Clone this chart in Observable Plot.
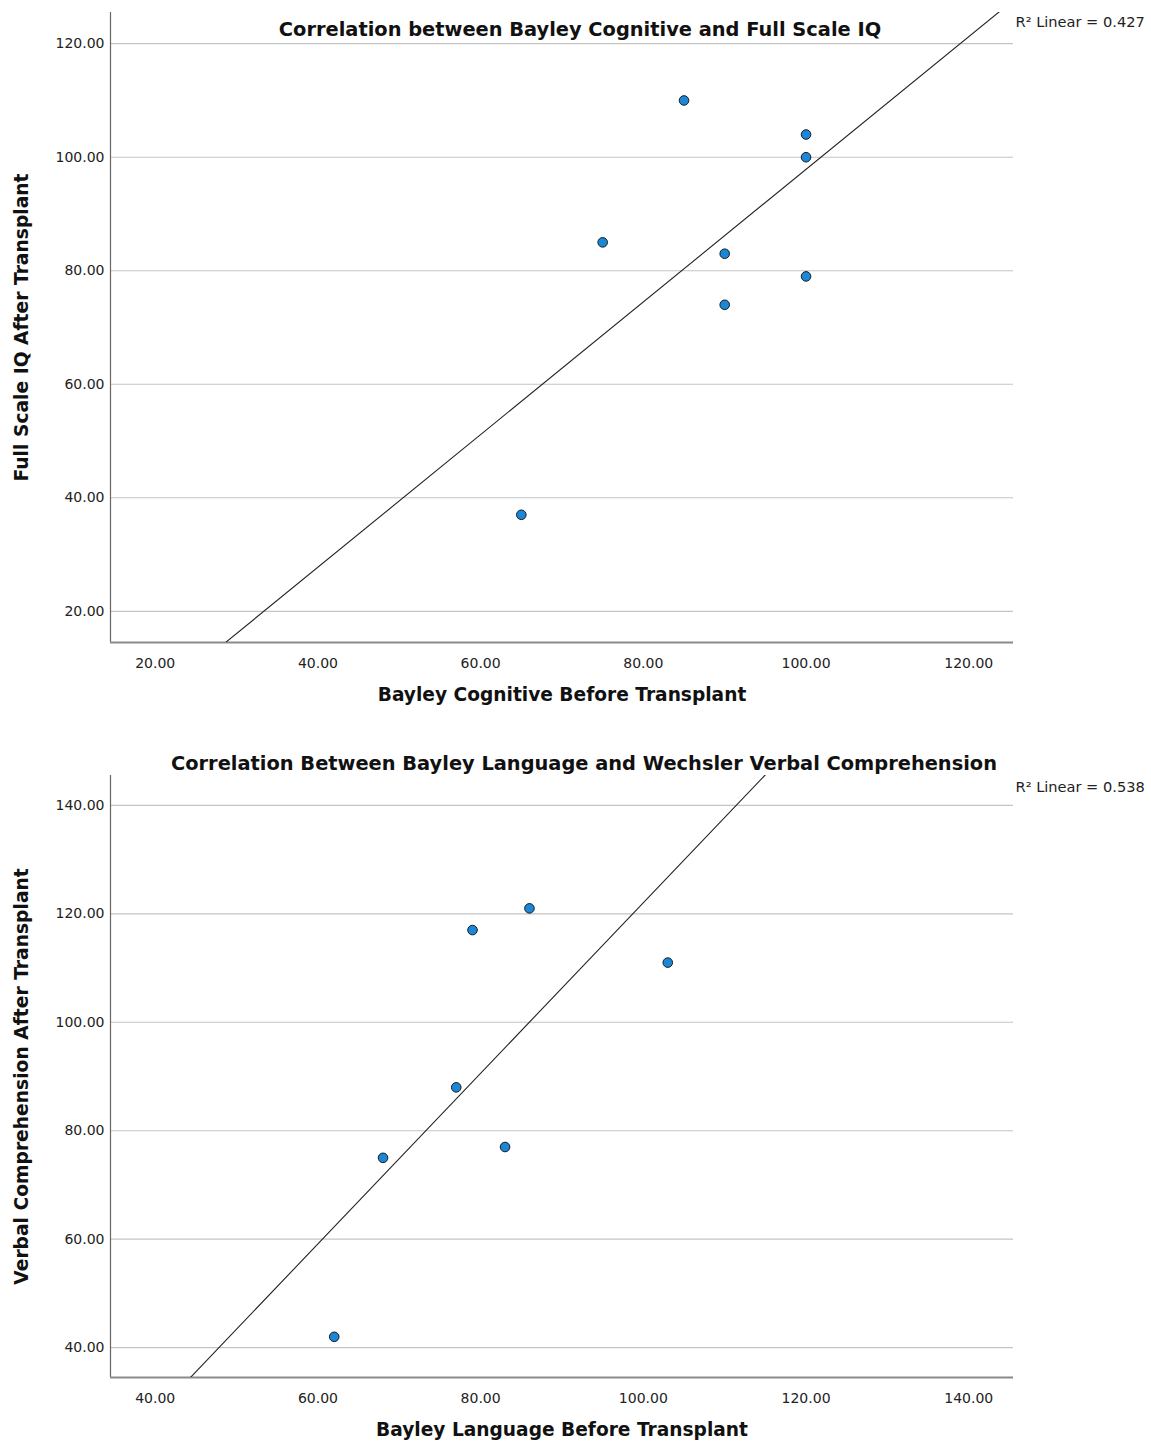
<!DOCTYPE html>
<html><head><meta charset="utf-8">
<script src="https://cdn.jsdelivr.net/npm/d3@7"></script>
<script src="https://cdn.jsdelivr.net/npm/@observablehq/plot@0.6"></script>
<style>body{margin:0;background:#fff} svg{display:block}</style>
</head><body><div id="c"></div>
<script>
// Chart 1 data
const cogBefore = [65, 75, 85, 90, 90, 100, 100, 100];
const fsiqAfter = [37, 85, 110, 83, 74, 104, 100, 79];
const ticks1 = [20, 40, 60, 80, 100, 120];
const domain1 = [14.5, 125.5];
// Chart 2 data
const langBefore = [62, 68, 77, 79, 83, 86, 103];
const vcAfter = [42, 75, 88, 117, 77, 121, 111];
const ticks2 = [40, 60, 80, 100, 120, 140];
const domain2 = [34.5, 145.5];

const FONT = "DejaVu Sans";
const fmt = d3.format(".2f");

function fit(xs, ys) {
  const mx = d3.mean(xs), my = d3.mean(ys);
  let sxy = 0, sxx = 0, syy = 0;
  xs.forEach((x, i) => { const dx = x - mx, dy = ys[i] - my; sxy += dx*dy; sxx += dx*dx; syy += dy*dy; });
  const b = sxy / sxx;
  return {b, a: my - b*mx, r2: sxy*sxy/(sxx*syy)};
}

function chart(o) {
  const data = o.xs.map((x, i) => ({x, y: o.ys[i]}));
  const f = fit(o.xs, o.ys);
  const lineData = o.domain.map(x => ({x, y: f.a + f.b*x}));
  return Plot.plot({
    width: 1151, height: o.height,
    marginLeft: 110, marginRight: 138, marginTop: o.marginTop, marginBottom: o.marginBottom,
    style: {fontFamily: FONT, background: "#fff"},
    x: {domain: o.domain},
    y: {domain: o.domain},
    marks: [
      Plot.ruleY(o.ticks, {stroke: "#c4c4c4", strokeWidth: 1.2}),
      Plot.axisX({ticks: o.ticks, tickFormat: fmt, tickSize: 0, tickPadding: 16, fontSize: 14, label: null, fill: "#222"}),
      Plot.axisY({ticks: o.ticks, tickFormat: fmt, tickSize: 0, tickPadding: 6, fontSize: 14, label: null, fill: "#222"}),
      Plot.ruleX([o.domain[0]], {stroke: "#666", strokeWidth: 1.2}),
      Plot.ruleY([o.domain[0]], {stroke: "#8a8a8a", strokeWidth: 2}),
      Plot.line(lineData, {x: "x", y: "y", stroke: "#222", strokeWidth: 1.1, clip: true}),
      Plot.dot(data, {x: "x", y: "y", r: 4.8, fill: "#1a87d9", stroke: "#1a1a1a", strokeWidth: 1}),
      Plot.text([o.title], {frameAnchor: "top", dx: o.titleDx, dy: o.titleDy, fontSize: 19.4, fontWeight: "bold", fill: "#111", lineAnchor: "middle"}),
      Plot.text([`R² Linear = ${f.r2.toFixed(3)}`], {frameAnchor: "top-right", textAnchor: "start", dx: 2, dy: o.r2Dy, fontSize: 14.6, fill: "#222", lineAnchor: "middle"}),
      Plot.text([o.xLabel], {frameAnchor: "bottom", dy: 53, fontSize: 18.6, fontWeight: "bold", fill: "#111", lineAnchor: "middle"}),
      Plot.text([o.yLabel], {frameAnchor: "left", dx: -88, rotate: -90, textAnchor: "middle", fontSize: 18.7, fontWeight: "bold", fill: "#111", lineAnchor: "middle"})
    ]
  });
}

const c = document.getElementById("c");
c.appendChild(chart({
  xs: cogBefore, ys: fsiqAfter, domain: domain1, ticks: ticks1,
  title: "Correlation between Bayley Cognitive and Full Scale IQ",
  xLabel: "Bayley Cognitive Before Transplant",
  yLabel: "Full Scale IQ After Transplant",
  height: 720, marginTop: 12, marginBottom: 78, titleDx: 18, titleDy: 17, r2Dy: 10
}));
c.appendChild(chart({
  xs: langBefore, ys: vcAfter, domain: domain2, ticks: ticks2,
  title: "Correlation Between Bayley Language and Wechsler Verbal Comprehension",
  xLabel: "Bayley Language Before Transplant",
  yLabel: "Verbal Comprehension After Transplant",
  height: 722, marginTop: 55, marginBottom: 65, titleDx: 22, titleDy: -12, r2Dy: 12
}));
</script></body></html>
